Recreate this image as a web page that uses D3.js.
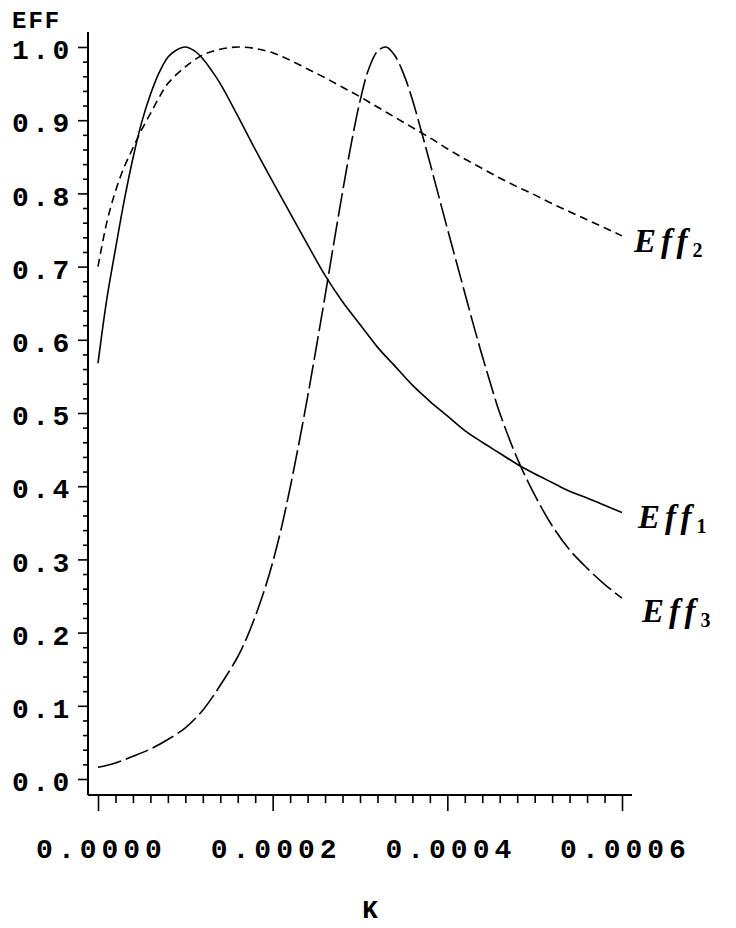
<!DOCTYPE html>
<html>
<head>
<meta charset="utf-8">
<script src="https://cdn.jsdelivr.net/npm/d3@7"></script>
<style>
  body { margin: 0; background: #fff; }
  svg { display: block; }
  .tick-label { font-family: "Liberation Mono", monospace; font-weight: bold; font-size: 28px; letter-spacing: 3.5px; fill: #000; }
  .curve-label { font-family: "Liberation Serif", serif; font-weight: bold; font-style: italic; font-size: 33px; letter-spacing: 5px; fill: #000; }
</style>
</head>
<body>
<div id="chart"></div>
<script>
// EFF vs K, three efficiency curves

// Eff1 (solid)
const eff1K = [0, 0.00001, 0.00002, 0.00003, 0.00004, 0.00005, 0.00006, 0.00007, 0.00008, 0.00009, 0.0001,
    0.00011, 0.00012, 0.00013, 0.00014, 0.00016, 0.00018, 0.0002, 0.00022, 0.00024, 0.00026, 0.00028, 0.0003,
    0.00032, 0.00034, 0.00036, 0.00038, 0.0004, 0.00042, 0.00044, 0.00046, 0.00048, 0.0005, 0.00052, 0.00054,
    0.00056, 0.00058, 0.0006];
const eff1 = [0.568, 0.655, 0.724, 0.79, 0.848, 0.897, 0.935, 0.965, 0.986, 0.996, 1.0,
    0.995, 0.984, 0.968, 0.95, 0.906, 0.86, 0.816, 0.773, 0.73, 0.688, 0.652, 0.621,
    0.59, 0.564, 0.538, 0.516, 0.496, 0.476, 0.46, 0.445, 0.43, 0.417, 0.405, 0.393,
    0.384, 0.374, 0.364];

// Eff2 (short dashes)
const eff2K = [0, 0.00001, 0.00002, 0.00003, 0.00004, 0.00005, 0.00006, 0.00007, 0.00008, 0.0001, 0.00012,
    0.00014, 0.00016, 0.00018, 0.0002, 0.00022, 0.00024, 0.00026, 0.00028, 0.0003, 0.00032, 0.00034, 0.00036,
    0.00038, 0.0004, 0.00042, 0.00044, 0.00046, 0.00048, 0.0005, 0.00052, 0.00054, 0.00056, 0.00058, 0.0006];
const eff2 = [0.70, 0.76, 0.803, 0.836, 0.862, 0.887, 0.909, 0.931, 0.95, 0.973, 0.989,
    0.997, 1.0, 0.998, 0.992, 0.982, 0.97, 0.958, 0.945, 0.932, 0.918, 0.904, 0.89,
    0.876, 0.861, 0.847, 0.834, 0.821, 0.809, 0.798, 0.786, 0.775, 0.764, 0.753, 0.742];

// Eff3 (long dashes)
const eff3K = [0, 0.00002, 0.00004, 0.00006, 0.00008, 0.0001, 0.00012, 0.00014, 0.00016, 0.00017, 0.00018,
    0.00019, 0.0002, 0.00021, 0.00022, 0.00023, 0.00024, 0.00025, 0.00026, 0.00027, 0.00028, 0.00029, 0.0003,
    0.00031, 0.00032, 0.00033, 0.00034, 0.00035, 0.00036, 0.00037, 0.00038, 0.00039, 0.0004, 0.00041, 0.00042,
    0.00043, 0.00044, 0.00045, 0.00046, 0.00048, 0.0005, 0.00052, 0.00054, 0.00056, 0.00058, 0.0006];
const eff3 = [0.016, 0.022, 0.031, 0.041, 0.054, 0.07, 0.094, 0.128, 0.167, 0.192, 0.222,
    0.256, 0.296, 0.343, 0.398, 0.458, 0.522, 0.59, 0.66, 0.732, 0.802, 0.868, 0.926,
    0.97, 0.994, 1.0, 0.988, 0.963, 0.928, 0.886, 0.842, 0.797, 0.752, 0.708, 0.664,
    0.62, 0.578, 0.538, 0.5, 0.438, 0.388, 0.346, 0.313, 0.288, 0.266, 0.247];

const yMajor = [0, 0.1, 0.2, 0.3, 0.4, 0.5, 0.6, 0.7, 0.8, 0.9, 1.0];
const xMajor = [0, 0.0002, 0.0004, 0.0006];

const width = 736, height = 928;

const svg = d3.select("#chart").append("svg")
    .attr("width", width)
    .attr("height", height);

const x = d3.scaleLinear().domain([0, 0.0006]).range([98, 622]);
const y = d3.scaleLinear().domain([0, 1]).range([779, 47]);

const axisX = 88;        // where the y axis sits
const axisY = y(-0.022); // where the x axis sits

// y axis: minor then major ticks
const yMinor = d3.range(1, 50).map(i => i * 0.02).filter((v, i) => (i + 1) % 5 !== 0);
svg.append("g")
    .attr("transform", "translate(" + axisX + ",0)")
    .call(d3.axisLeft(y).tickValues(yMinor).tickSize(5).tickFormat(""))
    .call(g => g.select(".domain").remove());

const gy = svg.append("g")
    .attr("transform", "translate(" + axisX + ",0)")
    .call(d3.axisLeft(y).tickValues(yMajor).tickSize(10).tickFormat(d3.format(".1f")))
    .call(g => g.select(".domain").remove());
gy.selectAll("text")
    .attr("class", "tick-label")
    .attr("text-anchor", "start")
    .attr("x", 12 - axisX)
    .attr("dy", "0.42em");

// x axis: minor then major ticks
const xMinor = d3.range(1, 30).map(i => i * 0.00002).filter((v, i) => (i + 1) % 10 !== 0);
svg.append("g")
    .attr("transform", "translate(0," + axisY + ")")
    .call(d3.axisBottom(x).tickValues(xMinor).tickSize(8).tickFormat(""))
    .call(g => g.select(".domain").remove());

const gx = svg.append("g")
    .attr("transform", "translate(0," + axisY + ")")
    .call(d3.axisBottom(x).tickValues(xMajor).tickSize(16).tickFormat(d3.format(".4f")))
    .call(g => g.select(".domain").remove());
gx.selectAll("text")
    .attr("class", "tick-label")
    .style("letter-spacing", "5px")
    .attr("y", 63)
    .attr("dy", 0)
    .attr("dx", "3px");

svg.selectAll(".tick line").attr("stroke", "#000").attr("stroke-width", 1.6);

// axis lines
svg.append("line")
    .attr("x1", axisX).attr("x2", axisX)
    .attr("y1", 32).attr("y2", axisY)
    .attr("stroke", "#000").attr("stroke-width", 2);
svg.append("line")
    .attr("x1", axisX).attr("x2", 632)
    .attr("y1", axisY).attr("y2", axisY)
    .attr("stroke", "#000").attr("stroke-width", 2);

// axis titles
svg.append("text")
    .attr("class", "tick-label")
    .attr("x", 12)
    .attr("y", 28)
    .style("font-size", "24px")
    .style("letter-spacing", "2px")
    .text("EFF");

svg.append("text")
    .attr("class", "tick-label")
    .attr("x", 370)
    .attr("y", 918)
    .attr("text-anchor", "middle")
    .style("font-size", "26px")
    .style("letter-spacing", "0px")
    .text("K");

// curves
const line = d3.line()
    .x(d => x(d[0]))
    .y(d => y(d[1]))
    .curve(d3.curveCatmullRom.alpha(0.5));

const series = [
    {k: eff1K, v: eff1, dash: null, sub: "1", lx: 638, ly: 528},
    {k: eff2K, v: eff2, dash: "8,5", sub: "2", lx: 634, ly: 252},
    {k: eff3K, v: eff3, dash: "24,5", sub: "3", lx: 642, ly: 622}
];

series.forEach(function(s){
    svg.append("path")
        .datum(d3.zip(s.k, s.v))
        .attr("d", line)
        .attr("fill", "none")
        .attr("stroke", "#000")
        .attr("stroke-width", 1.6)
        .attr("stroke-dasharray", s.dash);

    const t = svg.append("text")
        .attr("class", "curve-label")
        .attr("x", s.lx)
        .attr("y", s.ly);
    t.append("tspan").text("Eff");
    t.append("tspan")
        .attr("dy", 5)
        .style("font-size", "20px")
        .style("font-style", "normal")
        .style("letter-spacing", "0px")
        .text(s.sub);
});
</script>
</body>
</html>
